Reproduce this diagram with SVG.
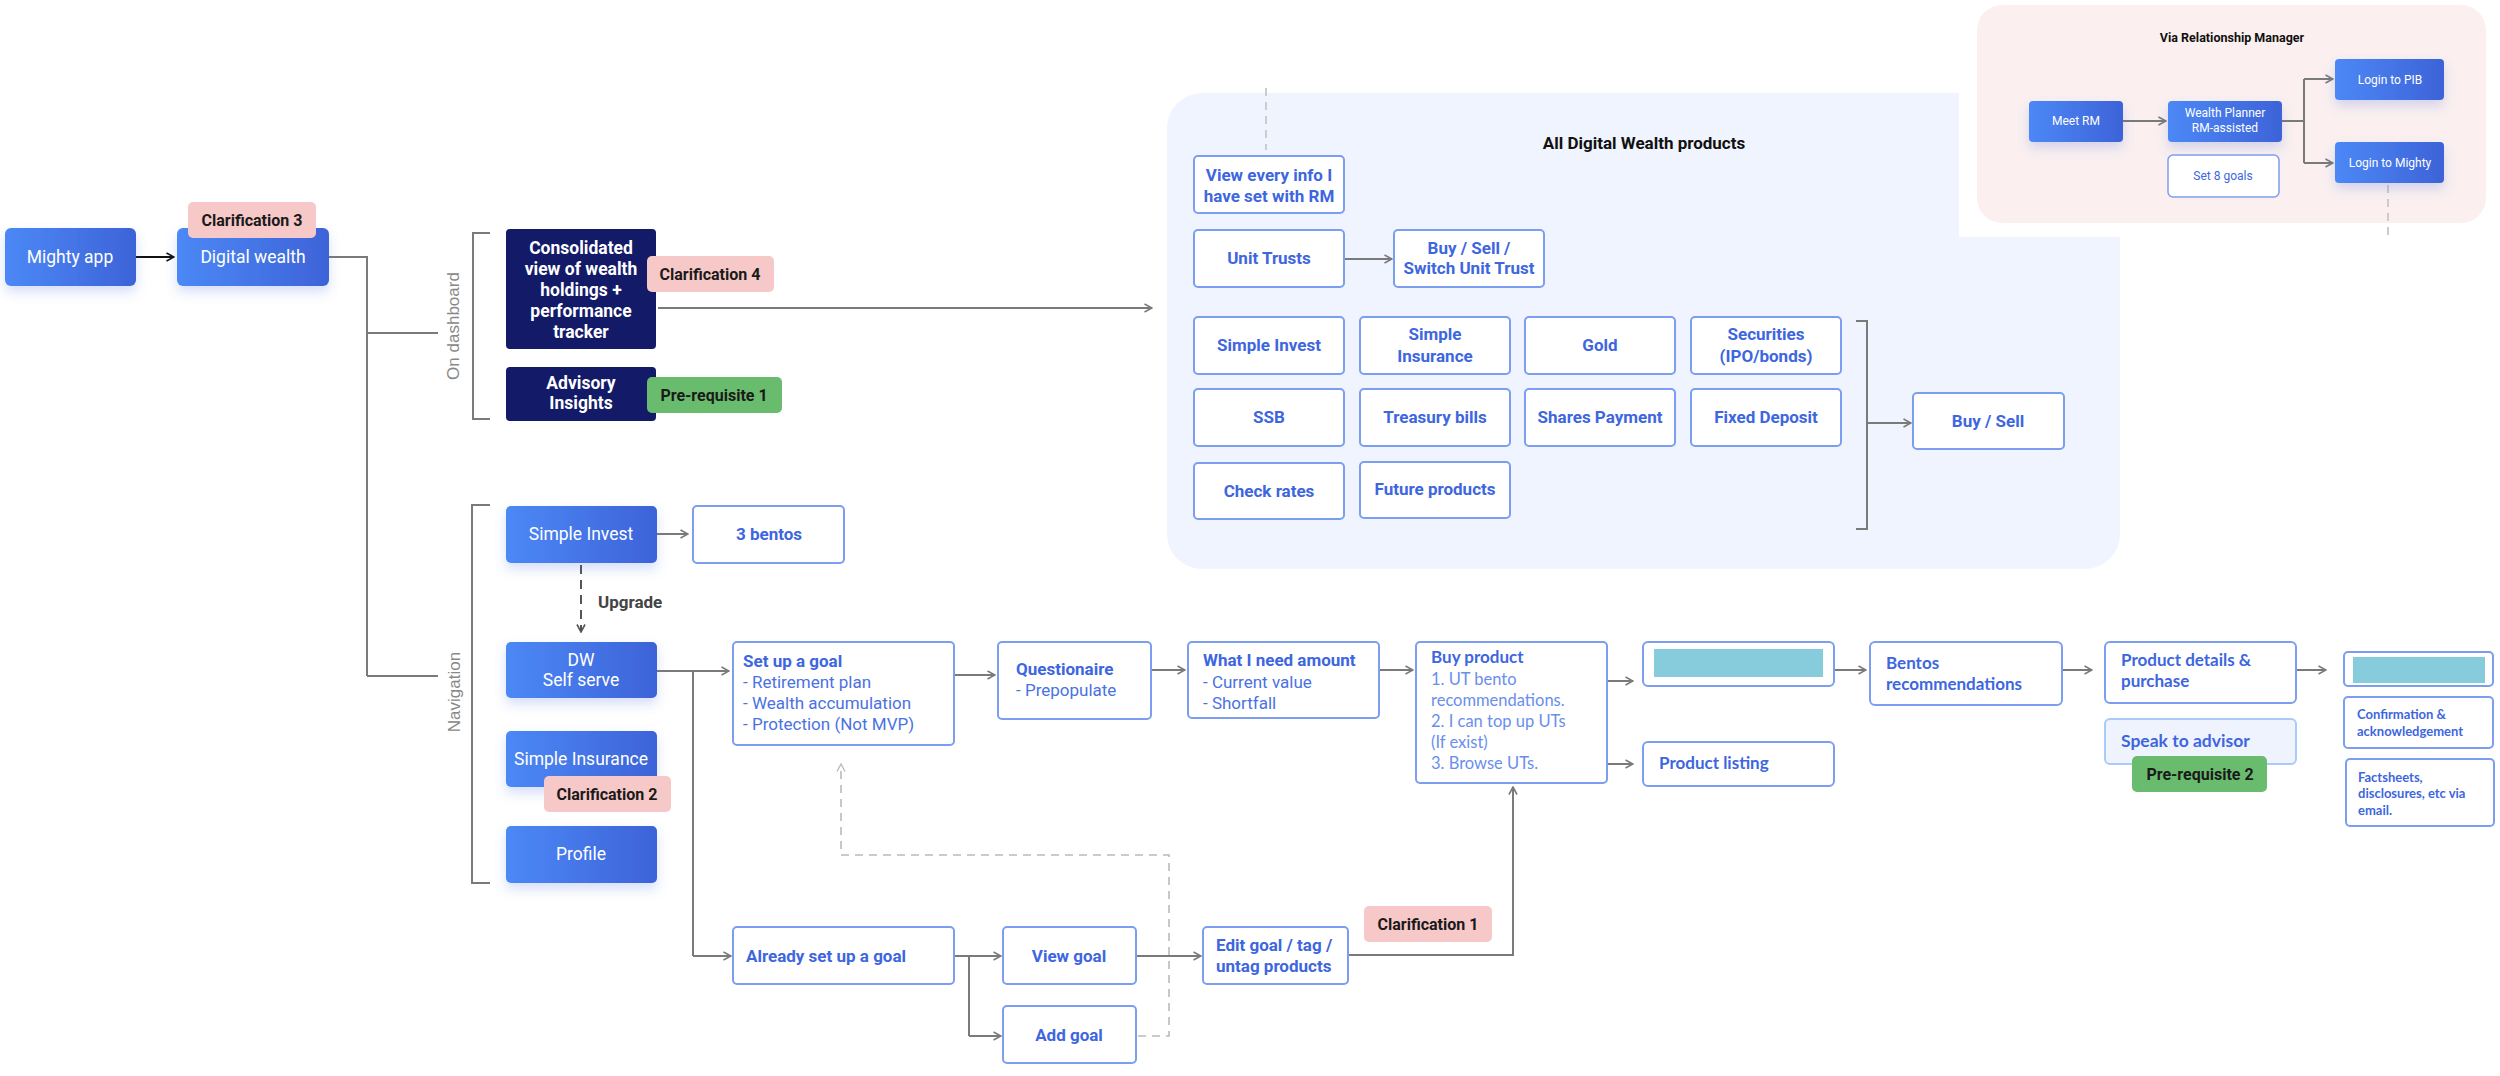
<svg xmlns="http://www.w3.org/2000/svg" width="2500" height="1076" viewBox="0 0 2500 1076">
<defs>
<linearGradient id="gb" x1="0" y1="0" x2="1" y2="0"><stop offset="0" stop-color="#4C88F6"/><stop offset="1" stop-color="#3D63D8"/></linearGradient>
<filter id="sh" x="-20%" y="-30%" width="140%" height="180%"><feDropShadow dx="0" dy="6" stdDeviation="6" flood-color="#3E6BE0" flood-opacity="0.22"/></filter>
<marker id="ar" viewBox="0 0 10 10" refX="9" refY="5" markerWidth="10" markerHeight="10" markerUnits="userSpaceOnUse" orient="auto"><path d="M1.5,1 L9,5 L1.5,9" fill="none" stroke="#7a7a7a" stroke-width="1.6"/></marker>
<marker id="ark" viewBox="0 0 10 10" refX="9" refY="5" markerWidth="10" markerHeight="10" markerUnits="userSpaceOnUse" orient="auto"><path d="M1.5,1 L9,5 L1.5,9" fill="none" stroke="#111" stroke-width="1.6"/></marker>
<marker id="ard" viewBox="0 0 10 10" refX="9" refY="5" markerWidth="10" markerHeight="10" markerUnits="userSpaceOnUse" orient="auto"><path d="M1.5,1 L9,5 L1.5,9" fill="none" stroke="#555" stroke-width="1.6"/></marker>
<marker id="arl" viewBox="0 0 10 10" refX="9" refY="5" markerWidth="10" markerHeight="10" markerUnits="userSpaceOnUse" orient="auto"><path d="M1.5,1 L9,5 L1.5,9" fill="none" stroke="#bbb" stroke-width="1.4"/></marker>
<style>
.blue{fill:url(#gb);filter:url(#sh)}
.navy{fill:#131A68}
.out{fill:#fff;stroke:#7C9EF0;stroke-width:2}
.clar{fill:#F7C8C8}
.pre{fill:#69BC6D}
.wt{font-family:Roboto,"Liberation Sans",sans-serif;font-size:17.5px;fill:#fff;text-anchor:middle}
.wb{font-family:Roboto,"Liberation Sans",sans-serif;font-size:17.5px;font-weight:bold;fill:#fff;text-anchor:middle}
.bt{font-family:Roboto,"Liberation Sans",sans-serif;font-size:17px;font-weight:bold;fill:#3D66DF}
.br{font-family:Roboto,"Liberation Sans",sans-serif;font-size:17px;fill:#4A72E2}
.lt{font-family:Lato,"Liberation Sans",sans-serif;font-size:17px;font-weight:bold;fill:#3D66DF}
.lr{font-family:Lato,"Liberation Sans",sans-serif;font-size:16.5px;fill:#6A8EEC}
.c{text-anchor:middle}
.lbl{font-family:Roboto,"Liberation Sans",sans-serif;font-size:16px;font-weight:bold;fill:#1a1a1a;text-anchor:middle}
.side{font-family:"Liberation Sans",Arial,sans-serif;font-size:17px;fill:#888;text-anchor:middle}
.sm{font-family:Roboto,"Liberation Sans",sans-serif;font-size:12px;fill:#fff;text-anchor:middle}
.conn{fill:none;stroke:#7a7a7a;stroke-width:2}
</style>
</defs>
<rect width="2500" height="1076" fill="#fff"/>

<g id="panel-products">
<rect x="1167" y="93" width="953" height="476" rx="35" fill="#F0F4FE"/>
<text x="1644" y="149" class="c" style="font-family:Roboto,sans-serif;font-size:17px;font-weight:bold;fill:#111">All Digital Wealth products</text>
</g>

<g id="panel-rm">
<rect x="1959" y="0" width="541" height="237" fill="#fff"/>
<rect x="1977" y="5" width="509" height="218" rx="25" fill="#FBF0EF"/>
<text x="2232" y="42" class="c" style="font-family:Roboto,sans-serif;font-size:12.5px;font-weight:bold;fill:#111">Via Relationship Manager</text>
</g>

<g id="connectors">
<line x1="136" y1="257" x2="174" y2="257" stroke="#111" stroke-width="2" marker-end="url(#ark)"/>
<path class="conn" d="M329,257 H367 V676 M367,333 H438 M367,676 H438"/>
<path class="conn" d="M490,233 H473 V419 H490"/>
<path class="conn" d="M490,505 H472 V883 H490"/>
<line class="conn" x1="658" y1="308" x2="1152" y2="308" marker-end="url(#ar)"/>
<line class="conn" x1="1344" y1="259" x2="1392" y2="259" marker-end="url(#ar)"/>
<path class="conn" d="M1856,321 H1867 V529 H1856"/>
<line class="conn" x1="1867" y1="423" x2="1911" y2="423" marker-end="url(#ar)"/>
<line class="conn" x1="2123" y1="121" x2="2166" y2="121" marker-end="url(#ar)"/>
<path class="conn" d="M2282,121 H2304 M2304,79 V163"/>
<line class="conn" x1="2304" y1="79" x2="2333" y2="79" marker-end="url(#ar)"/>
<line class="conn" x1="2304" y1="163" x2="2333" y2="163" marker-end="url(#ar)"/>
<line x1="2388" y1="185" x2="2388" y2="237" stroke="#ccc" stroke-width="2" stroke-dasharray="8 6"/>
<line x1="1266" y1="88" x2="1266" y2="150" stroke="#ccc" stroke-width="2" stroke-dasharray="8 6"/>
<line class="conn" x1="657" y1="534" x2="688" y2="534" marker-end="url(#ar)"/>
<line x1="581" y1="565" x2="581" y2="632" stroke="#555" stroke-width="2" stroke-dasharray="9 6" marker-end="url(#ard)"/>
<line class="conn" x1="657" y1="671" x2="729" y2="671" marker-end="url(#ar)"/>
<path class="conn" d="M693,671 V956"/>
<line class="conn" x1="693" y1="956" x2="731" y2="956" marker-end="url(#ar)"/>
<line class="conn" x1="954" y1="675" x2="995" y2="675" marker-end="url(#ar)"/>
<line class="conn" x1="1151" y1="670" x2="1185" y2="670" marker-end="url(#ar)"/>
<line class="conn" x1="1379" y1="670" x2="1413" y2="670" marker-end="url(#ar)"/>
<line class="conn" x1="1553" y1="681" x2="1633" y2="681" marker-end="url(#ar)"/>
<line class="conn" x1="1553" y1="764" x2="1633" y2="764" marker-end="url(#ar)"/>
<line class="conn" x1="1834" y1="670" x2="1866" y2="670" marker-end="url(#ar)"/>
<line class="conn" x1="2062" y1="670" x2="2092" y2="670" marker-end="url(#ar)"/>
<line class="conn" x1="2296" y1="670" x2="2326" y2="670" marker-end="url(#ar)"/>
<path class="conn" d="M954,956 H969 V1036"/>
<line class="conn" x1="969" y1="956" x2="1001" y2="956" marker-end="url(#ar)"/>
<line class="conn" x1="969" y1="1036" x2="1001" y2="1036" marker-end="url(#ar)"/>
<line class="conn" x1="1136" y1="956" x2="1201" y2="956" marker-end="url(#ar)"/>
<path class="conn" d="M1348,955 H1513 V787" marker-end="url(#ar)"/>
<path d="M1138,1036 H1169 V855 H841 V764" fill="none" stroke="#bbb" stroke-width="1.6" stroke-dasharray="8 6" marker-end="url(#arl)"/>
</g>

<g id="mighty-app"><rect class="blue" x="5" y="228" width="131" height="58" rx="6"/><text class="wt" x="70" y="263">Mighty app</text></g>
<g id="digital-wealth"><rect class="blue" x="177" y="228" width="152" height="58" rx="6"/><text class="wt" x="253" y="263">Digital wealth</text></g>
<g id="clarification-3"><rect class="clar" x="188" y="202" width="128" height="36" rx="5"/><text class="lbl" x="252" y="226">Clarification 3</text></g>

<g id="on-dashboard-label"><text class="side" transform="translate(459,326) rotate(-90)">On dashboard</text></g>
<g id="consolidated"><rect class="navy" x="506" y="229" width="150" height="120" rx="4"/>
<text class="wb" x="581" y="254">Consolidated</text><text class="wb" x="581" y="275">view of wealth</text><text class="wb" x="581" y="296">holdings +</text><text class="wb" x="581" y="317">performance</text><text class="wb" x="581" y="338">tracker</text></g>
<g id="clarification-4"><rect class="clar" x="647" y="256" width="127" height="36" rx="5"/><text class="lbl" x="710" y="280">Clarification 4</text></g>
<g id="advisory"><rect class="navy" x="506" y="367" width="150" height="54" rx="4"/><text class="wb" x="581" y="389">Advisory</text><text class="wb" x="581" y="409">Insights</text></g>
<g id="prerequisite-1"><rect class="pre" x="647" y="377" width="135" height="36" rx="5"/><text class="lbl" x="714" y="401">Pre-requisite 1</text></g>

<g id="view-every-info"><rect class="out" x="1194" y="156" width="150" height="57" rx="4"/><text class="bt c" x="1269" y="181">View every info I</text><text class="bt c" x="1269" y="202">have set with RM</text></g>
<g id="unit-trusts"><rect class="out" x="1194" y="230" width="150" height="57" rx="4"/><text class="bt c" x="1269" y="264">Unit Trusts</text></g>
<g id="buy-sell-switch"><rect class="out" x="1394" y="230" width="150" height="57" rx="4"/><text class="bt c" x="1469" y="254">Buy / Sell /</text><text class="bt c" x="1469" y="274">Switch Unit Trust</text></g>
<g id="p-simple-invest"><rect class="out" x="1194" y="317" width="150" height="57" rx="4"/><text class="bt c" x="1269" y="351">Simple Invest</text></g>
<g id="p-simple-insurance"><rect class="out" x="1360" y="317" width="150" height="57" rx="4"/><text class="bt c" x="1435" y="340">Simple</text><text class="bt c" x="1435" y="362">Insurance</text></g>
<g id="p-gold"><rect class="out" x="1525" y="317" width="150" height="57" rx="4"/><text class="bt c" x="1600" y="351">Gold</text></g>
<g id="p-securities"><rect class="out" x="1691" y="317" width="150" height="57" rx="4"/><text class="bt c" x="1766" y="340">Securities</text><text class="bt c" x="1766" y="362">(IPO/bonds)</text></g>
<g id="p-ssb"><rect class="out" x="1194" y="389" width="150" height="57" rx="4"/><text class="bt c" x="1269" y="423">SSB</text></g>
<g id="p-treasury"><rect class="out" x="1360" y="389" width="150" height="57" rx="4"/><text class="bt c" x="1435" y="423">Treasury bills</text></g>
<g id="p-shares"><rect class="out" x="1525" y="389" width="150" height="57" rx="4"/><text class="bt c" x="1600" y="423">Shares Payment</text></g>
<g id="p-fixed"><rect class="out" x="1691" y="389" width="150" height="57" rx="4"/><text class="bt c" x="1766" y="423">Fixed Deposit</text></g>
<g id="p-check-rates"><rect class="out" x="1194" y="463" width="150" height="56" rx="4"/><text class="bt c" x="1269" y="497">Check rates</text></g>
<g id="p-future"><rect class="out" x="1360" y="462" width="150" height="56" rx="4"/><text class="bt c" x="1435" y="495">Future products</text></g>
<g id="p-buy-sell"><rect class="out" x="1913" y="393" width="151" height="56" rx="4"/><text class="bt c" x="1988" y="427">Buy / Sell</text></g>

<g id="meet-rm"><rect class="blue" x="2029" y="101" width="94" height="41" rx="4"/><text class="sm" x="2076" y="125">Meet RM</text></g>
<g id="wealth-planner"><rect class="blue" x="2168" y="101" width="114" height="41" rx="4"/><text class="sm" x="2225" y="117">Wealth Planner</text><text class="sm" x="2225" y="132">RM-assisted</text></g>
<g id="set-8-goals"><rect x="2168" y="155" width="111" height="42" rx="5" fill="#fff" stroke="#7C9EF0" stroke-width="1.5"/><text class="sm" x="2223" y="180" style="fill:#3D66DF">Set 8 goals</text></g>
<g id="login-pib"><rect class="blue" x="2335" y="59" width="109" height="41" rx="4"/><text class="sm" x="2390" y="84">Login to PIB</text></g>
<g id="login-mighty"><rect class="blue" x="2335" y="142" width="109" height="41" rx="4"/><text class="sm" x="2390" y="167">Login to Mighty</text></g>

<g id="navigation-label"><text class="side" transform="translate(460,692) rotate(-90)">Navigation</text></g>
<g id="simple-invest"><rect class="blue" x="506" y="506" width="151" height="57" rx="5"/><text class="wt" x="581" y="540">Simple Invest</text></g>
<g id="three-bentos"><rect class="out" x="693" y="506" width="151" height="57" rx="4"/><text class="bt c" x="769" y="540">3 bentos</text></g>
<g id="upgrade-label"><text x="598" y="608" style="font-family:Roboto,sans-serif;font-size:17px;font-weight:bold;fill:#444">Upgrade</text></g>
<g id="dw-self-serve"><rect class="blue" x="506" y="642" width="151" height="56" rx="5"/><text class="wt" x="581" y="666">DW</text><text class="wt" x="581" y="686">Self serve</text></g>
<g id="simple-insurance"><rect class="blue" x="506" y="731" width="151" height="56" rx="5"/><text class="wt" x="581" y="765">Simple Insurance</text></g>
<g id="clarification-2"><rect class="clar" x="544" y="776" width="127" height="36" rx="5"/><text class="lbl" x="607" y="800">Clarification 2</text></g>
<g id="profile"><rect class="blue" x="506" y="826" width="151" height="57" rx="5"/><text class="wt" x="581" y="860">Profile</text></g>

<g id="set-up-goal"><rect class="out" x="733" y="642" width="221" height="103" rx="4"/>
<text class="bt" x="743" y="667">Set up a goal</text><text class="br" x="743" y="688">- Retirement plan</text><text class="br" x="743" y="709">- Wealth accumulation</text><text class="br" x="743" y="730">- Protection (Not MVP)</text></g>
<g id="questionaire"><rect class="out" x="998" y="642" width="153" height="77" rx="4"/><text class="bt" x="1016" y="675">Questionaire</text><text class="br" x="1016" y="696">- Prepopulate</text></g>
<g id="what-i-need"><rect class="out" x="1188" y="642" width="191" height="76" rx="4"/><text class="bt" x="1203" y="666">What I need amount</text><text class="br" x="1203" y="688">- Current value</text><text class="br" x="1203" y="709">- Shortfall</text></g>
<g id="buy-product"><rect class="out" x="1416" y="642" width="191" height="141" rx="4"/>
<text class="lt" x="1431" y="663">Buy product</text><text class="lr" x="1431" y="685">1. UT bento</text><text class="lr" x="1431" y="706">recommendations.</text><text class="lr" x="1431" y="727">2. I can top up UTs</text><text class="lr" x="1431" y="748">(If exist)</text><text class="lr" x="1431" y="769">3. Browse UTs.</text></g>
<g id="hidden-box-1"><rect class="out" x="1643" y="642" width="191" height="44" rx="5"/><rect x="1654" y="649" width="169" height="28" fill="#86CCDD"/></g>
<g id="product-listing"><rect class="out" x="1643" y="742" width="191" height="44" rx="5"/><text class="lt" x="1659" y="769">Product listing</text></g>
<g id="bentos-recommendations"><rect class="out" x="1870" y="642" width="192" height="63" rx="5"/><text class="lt" x="1886" y="669">Bentos</text><text class="lt" x="1886" y="690">recommendations</text></g>
<g id="product-details"><rect class="out" x="2105" y="642" width="191" height="61" rx="5"/><text class="lt" x="2121" y="666">Product details &amp;</text><text class="lt" x="2121" y="687">purchase</text></g>
<g id="speak-advisor"><rect x="2105" y="719" width="191" height="45" rx="5" fill="#EFF3FD" stroke="#A9CBF7" stroke-width="2"/><text class="lt" x="2121" y="747" style="font-size:17.5px">Speak to advisor</text></g>
<g id="prerequisite-2"><rect class="pre" x="2132" y="756" width="135" height="36" rx="5"/><text class="lbl" x="2200" y="780">Pre-requisite 2</text></g>
<g id="hidden-box-2"><rect class="out" x="2344" y="652" width="149" height="34" rx="4"/><rect x="2353" y="657" width="132" height="26" fill="#86CCDD"/></g>
<g id="confirmation"><rect class="out" x="2344" y="697" width="149" height="51" rx="4"/><text class="lt" x="2357" y="719" style="font-size:13px">Confirmation &amp;</text><text class="lt" x="2357" y="736" style="font-size:13px">acknowledgement</text></g>
<g id="factsheets"><rect class="out" x="2346" y="759" width="148" height="67" rx="4"/><text class="lt" x="2358" y="782" style="font-size:13px">Factsheets,</text><text class="lt" x="2358" y="798" style="font-size:13px">disclosures, etc via</text><text class="lt" x="2358" y="815" style="font-size:13px">email.</text></g>

<g id="already-set-up"><rect class="out" x="733" y="927" width="221" height="57" rx="4"/><text class="bt" x="746" y="962">Already set up a goal</text></g>
<g id="view-goal"><rect class="out" x="1003" y="927" width="133" height="57" rx="4"/><text class="bt c" x="1069" y="962">View goal</text></g>
<g id="add-goal"><rect class="out" x="1003" y="1006" width="133" height="57" rx="4"/><text class="bt c" x="1069" y="1041">Add goal</text></g>
<g id="edit-goal"><rect class="out" x="1203" y="927" width="145" height="57" rx="4"/><text class="bt" x="1216" y="951">Edit goal / tag /</text><text class="bt" x="1216" y="972">untag products</text></g>
<g id="clarification-1"><rect class="clar" x="1364" y="906" width="128" height="36" rx="5"/><text class="lbl" x="1428" y="930">Clarification 1</text></g>
</svg>
